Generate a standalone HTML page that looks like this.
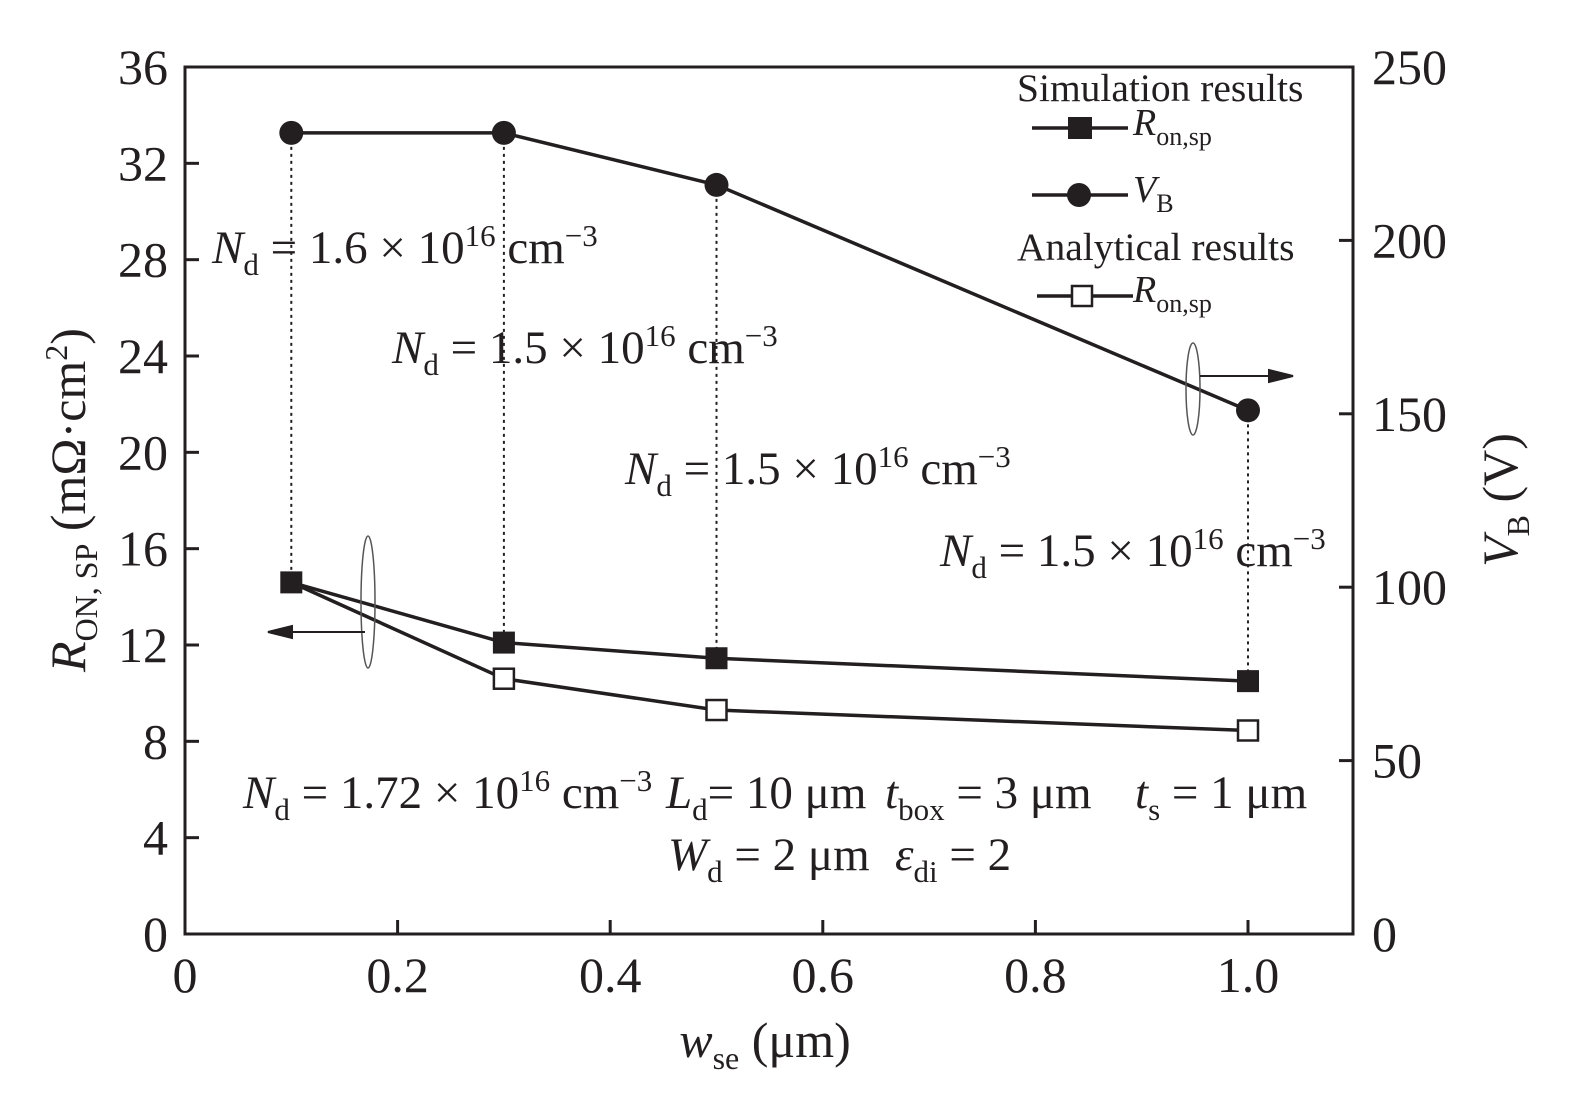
<!DOCTYPE html>
<html><head><meta charset="utf-8"><style>
html,body{margin:0;padding:0;background:#fff}
svg{display:block;font-family:"Liberation Serif",serif;fill:#231f20}
text{fill:#231f20}
</style></head><body>
<svg id="c" width="1575" height="1117" viewBox="0 0 1575 1117"></svg>
<script>
const xVals=[0.1,0.3,0.5,1.0];
const ronSim=[14.6,12.1,11.45,10.5];
const ronAna=[14.6,10.6,9.3,8.45];
const vb=[231,231,216,151];
const xTicks=[0,0.2,0.4,0.6,0.8,1.0];
const xTickLabels=["0","0.2","0.4","0.6","0.8","1.0"];
const yTicks=[0,4,8,12,16,20,24,28,32,36];
const y2Ticks=[0,50,100,150,200,250];

const L=185,R=1353,T=67,B=934;
const X=v=>L+v*1063;
const Y=v=>B-v*(B-T)/36;
const Y2=v=>B-v*(B-T)/250;
const svg=document.getElementById('c');
const NS='http://www.w3.org/2000/svg';
function mk(tag,attrs,parent){const e=document.createElementNS(NS,tag);for(const k in attrs)e.setAttribute(k,attrs[k]);(parent||svg).appendChild(e);return e;}
function txt(x,y,html,size,anchor,name){const e=mk('text',{x:x,y:y,'font-size':size,'text-anchor':anchor||'start'});e.innerHTML=html;return e;}

const fr=mk('rect',{x:L,y:T,width:R-L,height:B-T,fill:'none',stroke:'#231f20','stroke-width':3});



xTicks.forEach((v,i)=>{
  const t=mk('line',{x1:X(v),x2:X(v),y1:B,y2:B-14,stroke:'#231f20','stroke-width':3});
  
  
  txt(X(v),992,xTickLabels[i],50,'middle','x-tick-label');
});
yTicks.forEach(v=>{
  const t=mk('line',{x1:L,x2:L+14,y1:Y(v),y2:Y(v),stroke:'#231f20','stroke-width':3});
  
  
  txt(168,Y(v)+17,String(v),50,'end','y-tick-label');
});
y2Ticks.forEach(v=>{
  const t=mk('line',{x1:R,x2:R-14,y1:Y2(v),y2:Y2(v),stroke:'#231f20','stroke-width':3});
  
  
  txt(1372,Y2(v)+17,String(v),50,'start','y2-tick-label');
});

txt(765,1057,'<tspan font-style="italic">w</tspan><tspan font-size="32" dy="12">se</tspan><tspan dy="-12"> (μm)</tspan>',50,'middle','x-axis-title');
const yt=txt(0,0,'<tspan font-style="italic">R</tspan><tspan font-size="32" dy="12">ON, SP</tspan><tspan dy="-12"> (mΩ·cm</tspan><tspan font-size="32" dy="-18">2</tspan><tspan dy="18">)</tspan>',50,'middle','y-axis-title');
yt.setAttribute('transform','translate(85,500) rotate(-90)');
const y2t=txt(0,0,'<tspan font-style="italic">V</tspan><tspan font-size="32" dy="12">B</tspan><tspan dy="-12"> (V)</tspan>',50,'middle','y2-axis-title');
y2t.setAttribute('transform','translate(1517,500) rotate(-90)');

xVals.forEach((v,i)=>{
  const d=mk('line',{x1:X(v),x2:X(v),y1:Y2(vb[i]),y2:Y(ronSim[i]),stroke:'#231f20','stroke-width':2,'stroke-dasharray':'3,4'});
  
  
});

function series(vals,yf,name){
  const p=mk('polyline',{points:xVals.map((v,i)=>X(v)+','+yf(vals[i])).join(' '),fill:'none',stroke:'#231f20','stroke-width':3.5});
  
  
}
series(ronSim,Y,'ron-sim-line');
series(ronAna,Y,'ron-analytical-line');
series(vb,Y2,'vb-line');
xVals.forEach((v,i)=>{
  const s=mk('rect',{x:X(v)-11,y:Y(ronSim[i])-11,width:22,height:22,fill:'#231f20'});
  
  
  if(i>0){
    const a=mk('rect',{x:X(v)-10,y:Y(ronAna[i])-10,width:20,height:20,fill:'#fff',stroke:'#231f20','stroke-width':2.5});
    
    
  }
  const c=mk('circle',{cx:X(v),cy:Y2(vb[i]),r:12,fill:'#231f20'});
  
  
});

const e1=mk('ellipse',{cx:368,cy:602,rx:7,ry:66,fill:'none',stroke:'#555','stroke-width':1.5});


const a1=mk('path',{d:'M365,632 L285,632 M268,632 L292,626 L292,638 Z',stroke:'#231f20','stroke-width':2,fill:'#231f20'});


const e2=mk('ellipse',{cx:1193,cy:389,rx:7,ry:46,fill:'none',stroke:'#555','stroke-width':1.5});


const a2=mk('path',{d:'M1200,376 L1275,376 M1293,376 L1269,370 L1269,382 Z',stroke:'#231f20','stroke-width':2,fill:'#231f20'});



const nd=(x,y,val,name)=>txt(x,y,'<tspan font-style="italic">N</tspan><tspan font-size="31" dy="12">d</tspan><tspan dy="-12"> = '+val+' × 10</tspan><tspan font-size="31" dy="-17">16</tspan><tspan dy="17"> cm</tspan><tspan font-size="31" dy="-17">−3</tspan>',47,'start',name);
nd(212,263,'1.6','nd-annotation-1');
nd(392,363,'1.5','nd-annotation-2');
nd(625,484,'1.5','nd-annotation-3');
nd(940,566,'1.5','nd-annotation-4');
const sub=(main,s,rest)=>'<tspan font-style="italic">'+main+'</tspan><tspan font-size="31" dy="12">'+s+'</tspan><tspan dy="-12">'+rest+'</tspan>';
nd(243,808,'1.72','device-param-nd');
txt(666,808,sub('L','d','= 10 μm'),47,'start','device-param-ld');
txt(885,808,sub('t','box',' = 3 μm'),47,'start','device-param-tbox');
txt(1135,808,sub('t','s',' = 1 μm'),47,'start','device-param-ts');
txt(668,870,sub('W','d',' = 2 μm'),47,'start','device-param-wd');
txt(895,870,sub('ε','di',' = 2'),47,'start','device-param-eps');

txt(1017,101,'Simulation results',39.5,'start','legend-sim-title');
txt(1017,260,'Analytical results',39.5,'start','legend-ana-title');
function legLine(y,name){const l=mk('line',{x1:1032,x2:1128,y1:y,y2:y,stroke:'#231f20','stroke-width':3.5});}
legLine(128,'legend-ron-sim-line');
const ls=mk('rect',{x:1068,y:117,width:24,height:22,fill:'#231f20'});
txt(1133,135,'<tspan font-style="italic">R</tspan><tspan font-size="26" dy="10">on,sp</tspan>',38,'start','legend-ron-sim-label');
legLine(195,'legend-vb-line');
const lc=mk('circle',{cx:1079,cy:195,r:12,fill:'#231f20'});
txt(1133,202,'<tspan font-style="italic">V</tspan><tspan font-size="26" dy="10">B</tspan>',38,'start','legend-vb-label');
const la=mk('line',{x1:1037,x2:1133,y1:296,y2:296,stroke:'#231f20','stroke-width':3.5});
const lr=mk('rect',{x:1072,y:286,width:20,height:20,fill:'#fff',stroke:'#231f20','stroke-width':2.5});
txt(1133,302,'<tspan font-style="italic">R</tspan><tspan font-size="26" dy="10">on,sp</tspan>',38,'start','legend-ron-ana-label');
</script>
</body></html>
